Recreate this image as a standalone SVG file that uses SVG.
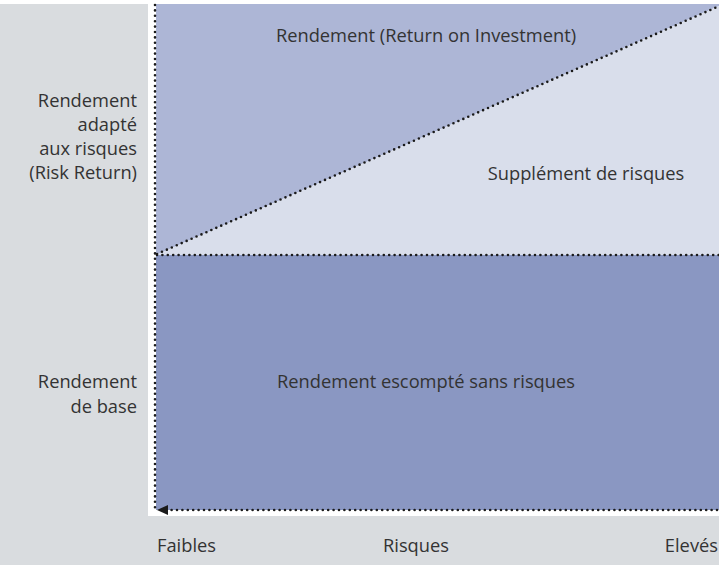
<svg xmlns="http://www.w3.org/2000/svg" width="719" height="565" viewBox="0 0 719 565">
<defs>
<style>
text{font-family:"Open Sans","Noto Sans","Liberation Sans",sans-serif;font-size:18.3px;fill:#333333}
.dot{fill:none;stroke:#1a1a1a;stroke-width:2.6;stroke-linecap:round;stroke-dasharray:0 5.4}
.r{text-anchor:end}
.m{text-anchor:middle}
</style>
</defs>
<rect x="0" y="0" width="719" height="565" fill="#ffffff"/>
<rect x="0" y="4" width="719" height="561" fill="#d9dcdf"/>
<rect x="148" y="4" width="571" height="512" fill="#ffffff"/>
<g id="plot">
<polygon points="156,4 719,4 719,6 156,255" fill="#adb6d6"/>
<polygon points="156,255 719,6 719,255" fill="#d9deeb"/>
<rect x="156" y="255" width="563" height="255" fill="#8a97c2"/>
</g>
<g id="connectors">
<line class="dot" x1="155" y1="5" x2="155" y2="508"/>
<line class="dot" x1="157" y1="255" x2="719" y2="255"/>
<line class="dot" x1="157" y1="254" x2="717" y2="7"/>
<line class="dot" x1="717" y1="510" x2="166" y2="510"/>
<path d="M157,510 L168,505 L168,515 Z" fill="#1a1a1a"/>
</g>
<g id="labels">
<text class="m" x="426" y="41.5">Rendement (Return on Investment)</text>
<text class="m" x="586" y="179.5">Supplément de risques</text>
<text class="m" x="426" y="388">Rendement escompté sans risques</text>
<text class="r" x="137" y="107">Rendement</text>
<text class="r" x="137" y="131">adapté</text>
<text class="r" x="137" y="155">aux risques</text>
<text class="r" x="137" y="179">(Risk Return)</text>
<text class="r" x="137" y="388">Rendement</text>
<text class="r" x="137" y="413">de base</text>
<text x="157" y="552">Faibles</text>
<text class="m" x="416" y="552">Risques</text>
<text class="r" x="718" y="552">Elevés</text>
</g>
</svg>
